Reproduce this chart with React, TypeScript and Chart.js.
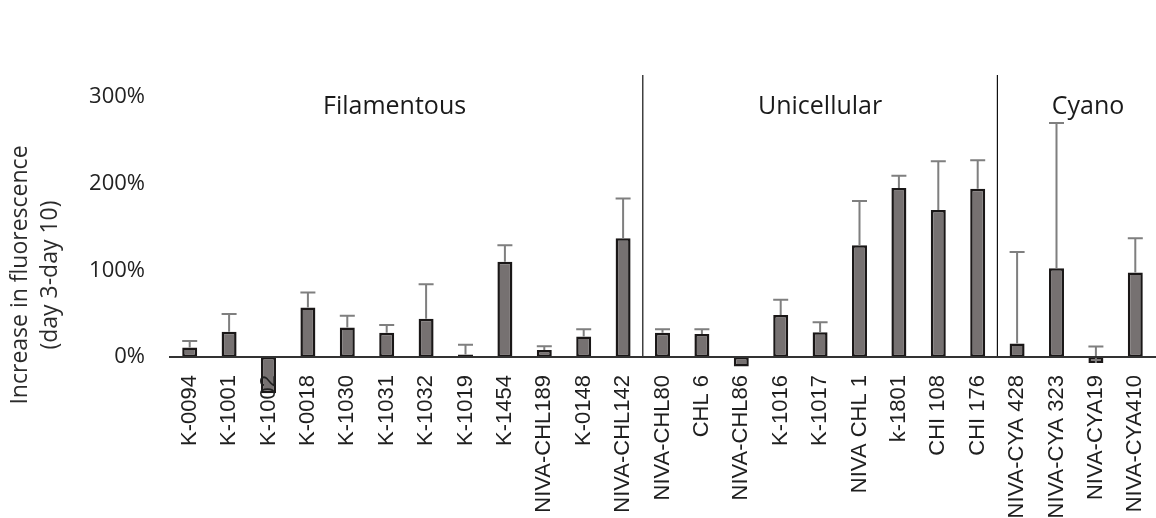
import React, { useEffect, useRef } from 'react';
import { Chart, registerables } from 'chart.js';

Chart.register(...registerables);

// Strains, in plotting order
const strains = [
  'K-0094', 'K-1001', 'K-1002', 'K-0018', 'K-1030', 'K-1031', 'K-1032', 'K-1019',
  'K-1454', 'NIVA-CHL189', 'K-0148', 'NIVA-CHL142',
  'NIVA-CHL80', 'CHL 6', 'NIVA-CHL86', 'K-1016', 'K-1017', 'NIVA CHL 1', 'k-1801',
  'CHI 108', 'CHI 176',
  'NIVA-CYA 428', 'NIVA-CYA 323', 'NIVA-CYA19', 'NIVA-CYA410',
];

// Mean increase in fluorescence, day 3 to day 10 (%)
const increase = [
  11, 29, -42, 57, 34, 28, 44, 3,
  110, 8, 23.5, 137,
  28, 26.5, -11, 48.5, 28.5, 129, 195,
  169.5, 194,
  15.5, 102.5, -7, 97.5,
];

// Upper error (%), null where none is drawn
const errorPlus = [
  7.5, 20.5, null, 17.5, 13.5, 9, 40, 11,
  19, 4.5, 8.5, 46,
  4, 5.5, null, 17.5, 11.5, 51, 14,
  56.5, 33,
  105.5, 167.5, 19, 39.5,
];

// Strain groups and how many strains each holds
const groupNames = ['Filamentous', 'Unicellular', 'Cyano'];
const groupSizes = [12, 9, 4];

const yTicks = [0, 100, 200, 300];

// Where each group heading sits, in category / value units
const headingAnchors = [
  { x: 5.2, y: 280 },
  { x: 16.0, y: 280 },
  { x: 22.8, y: 280 },
];

const errorBarsPlugin = {
  id: 'errorBars',
  afterDatasetsDraw(chart: any) {
    const { ctx } = chart;
    const yScale = chart.scales.y;
    const meta = chart.getDatasetMeta(0);
    ctx.save();
    ctx.strokeStyle = '#7f7f7f';
    ctx.lineWidth = 2;
    meta.data.forEach((bar: any, i: number) => {
      const e = errorPlus[i];
      if (e == null) return;
      const v = increase[i];
      const yA = yScale.getPixelForValue(v);
      const yB = yScale.getPixelForValue(v + e);
      const half = 7.5;
      ctx.beginPath();
      ctx.moveTo(bar.x, yA);
      ctx.lineTo(bar.x, yB);
      ctx.moveTo(bar.x - half, yB);
      ctx.lineTo(bar.x + half, yB);
      ctx.stroke();
    });
    ctx.restore();
  },
};

const groupsPlugin = {
  id: 'groups',
  afterDatasetsDraw(chart: any) {
    const { ctx, chartArea } = chart;
    const xScale = chart.scales.x;
    const yScale = chart.scales.y;
    const y0 = yScale.getPixelForValue(0);
    ctx.save();
    ctx.strokeStyle = '#111111';
    ctx.lineWidth = 1.2;
    let start = 0;
    groupSizes.forEach((n, gi) => {
      const end = start + n;
      if (gi < groupSizes.length - 1) {
        const bx = (xScale.getPixelForValue(end - 1) + xScale.getPixelForValue(end)) / 2;
        ctx.beginPath();
        ctx.moveTo(bx, chartArea.top);
        ctx.lineTo(bx, y0);
        ctx.stroke();
      }
      start = end;
    });
    ctx.fillStyle = '#1a1a1a';
    ctx.font = '25px "Open Sans"';
    ctx.textAlign = 'center';
    ctx.textBaseline = 'alphabetic';
    groupNames.forEach((name, gi) => {
      const a = headingAnchors[gi];
      ctx.fillText(name, xScale.getPixelForValue(a.x), yScale.getPixelForValue(a.y));
    });
    ctx.restore();
  },
};

function FluorescenceChart() {
  const canvasRef = useRef<HTMLCanvasElement | null>(null);

  useEffect(() => {
    document.body.style.margin = '0';
    const canvas = canvasRef.current;
    if (!canvas) return;
    const chart = new Chart(canvas, {
      type: 'bar',
      data: {
        labels: strains,
        datasets: [
          {
            data: increase,
            backgroundColor: '#767171',
            borderColor: '#1a1717',
            borderWidth: 2.5,
            borderSkipped: false,
            categoryPercentage: 1,
            barPercentage: 0.38,
          },
        ],
      },
      options: {
        responsive: false,
        devicePixelRatio: 1,
        animation: false,
        layout: { padding: { left: 0, right: 15, top: 75, bottom: 43 } },
        plugins: {
          legend: { display: false },
          tooltip: { enabled: false },
        },
        scales: {
          x: {
            position: { y: 0 } as any,
            grid: { display: false, drawTicks: false },
            border: { display: true, color: '#333333', width: 2, z: 1 },
            ticks: {
              z: 1,
              autoSkip: false,
              minRotation: 90,
              maxRotation: 90,
              padding: 18,
              color: '#1f1f1f',
              font: { family: '"Liberation Sans", Arial, sans-serif', size: 22 },
            },
          },
          y: {
            min: -136.2,
            max: 325.4,
            afterBuildTicks: (scale: any) => {
              scale.ticks = yTicks.map((v) => ({ value: v }));
            },
            afterFit: (scale: any) => {
              scale.width = 170;
            },
            grid: { display: false, drawTicks: false },
            border: { display: false },
            ticks: {
              padding: 25,
              color: '#222222',
              font: { family: '"Open Sans", sans-serif', size: 22 },
              callback: (v: any) => `${v}%`,
            },
            title: {
              display: true,
              text: ['Increase in fluorescence', '(day 3-day 10)'],
              color: '#2b2b2b',
              font: { family: '"Open Sans", sans-serif', size: 23, lineHeight: '30px' as any },
              padding: { top: 5, bottom: 0 },
            },
          },
        },
      },
      plugins: [errorBarsPlugin, groupsPlugin],
    });
    return () => chart.destroy();
  }, []);

  return (
    <div style={{ position: 'fixed', left: 0, top: 0, width: 1156, height: 518, overflow: 'hidden', background: '#fff' }}>
      <canvas ref={canvasRef} width={1180} height={518} style={{ display: 'block', width: 1180, height: 518 }} />
    </div>
  );
}

export default function App() {
  return <FluorescenceChart />;
}
